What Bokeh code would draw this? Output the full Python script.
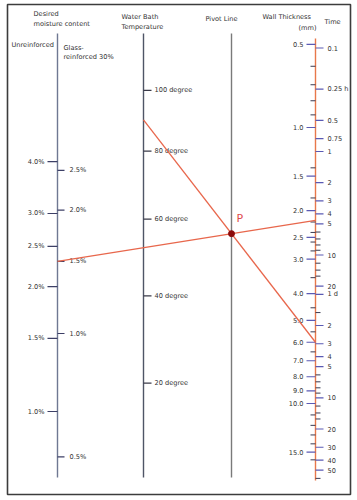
import numpy as np
from bokeh.plotting import figure
from bokeh.models import Range1d, ColumnDataSource
from bokeh.embed import file_html
from bokeh.resources import INLINE
from bokeh.core.properties import value

# ---- scale graduations -------------------------------------------------
unreinforced_pct = [4.0, 3.0, 2.5, 2.0, 1.5, 1.0]
unreinforced_labels = ["4.0%", "3.0%", "2.5%", "2.0%", "1.5%", "1.0%"]

glass_pct = [2.5, 2.0, 1.5, 1.0, 0.5]
glass_labels = ["2.5%", "2.0%", "1.5%", "1.0%", "0.5%"]

temperature_c = [100, 80, 60, 40, 20]
temperature_labels = ["100 degree", "80 degree", "60 degree", "40 degree", "20 degree"]

thickness_mm = [0.5, 1.0, 1.5, 2.0, 2.5, 3.0, 4.0, 5.0, 6.0, 7.0, 8.0, 9.0, 10.0, 15.0]
thickness_labels = ["0.5", "1.0", "1.5", "2.0", "2.5", "3.0", "4.0", "5.0",
                    "6.0", "7.0", "8.0", "9.0", "10.0", "15.0"]
thickness_minor = [0.6, 0.7, 0.8, 0.9, 1.4, 1.8, 2.2, 2.4, 2.6, 2.8, 3.5, 4.5,
                   5.5, 6.5, 11.0, 12.0, 13.0, 14.0, 16.0]

time_h = [0.1, 0.25, 0.5, 0.75, 1, 2, 3, 4, 5, 10, 20, 24,
          48, 72, 96, 120, 240, 480, 720, 960, 1200]
time_labels = ["0.1", "0.25   h", "0.5", "0.75", "1", "2", "3", "4", "5", "10", "20", "  1 d",
               "2", "3", "4", "5", "10", "20", "30", "40", "50"]
time_minor = [6, 7, 8, 9, 12, 14, 16, 36, 144, 168, 192, 216, 288, 336, 384, 1440]

# worked example: 6 mm wall in a 90 degree bath, glass-reinforced grade to 1.5 %
example_thickness = 6.0
example_temperature = 90
example_glass_moisture = 1.5

# ---- scale geometry ----------------------------------------------------
X_MOIST, X_TEMP, X_PIVOT, X_WALL = 57, 143, 231, 315
AXIS_TOP, AXIS_BOTTOM = 33, 477


def y_glass(g):
    return 333 - 410 * np.log10(np.asarray(g, dtype=float))


def y_unreinforced(u):
    return 411 - 415 * np.log10(np.asarray(u, dtype=float))


def y_temperature(t):
    # reciprocal absolute temperature (Arrhenius) scale
    return 228 + 400400 * (1.0 / (np.asarray(t, dtype=float) + 273.15) - 0.003025)


def y_thickness(L):
    return 127 + 276 * np.log10(np.asarray(L, dtype=float))


def y_time(h):
    return 151 + 103.5 * np.log10(np.asarray(h, dtype=float))


p = figure(width=357, height=500, output_backend="svg", toolbar_location=None,
           x_range=Range1d(7, 350), y_range=Range1d(494, 4),
           x_axis_location=None, y_axis_location=None,
           min_border_left=7, min_border_right=7, min_border_top=4, min_border_bottom=6)
p.grid.visible = False
p.outline_line_color = "#3c3c3c"
p.outline_line_width = 1.6
p.background_fill_color = "white"
p.border_fill_color = "white"

FONT = value("DejaVu Sans")
TXT = "#333333"
FS = "6.6px"


def ticks(x, ys, length, color, width=1.2):
    ys = np.asarray(ys, dtype=float)
    p.segment(x0=np.full(len(ys), x), y0=ys, x1=np.full(len(ys), x + length), y1=ys,
              line_color=color, line_width=width)


def labels(x, ys, texts, align):
    src = ColumnDataSource(dict(x=np.full(len(texts), x), y=np.asarray(ys, dtype=float), t=texts))
    p.text(x="x", y="y", text="t", source=src, text_font=FONT, text_font_size=FS,
           text_color=TXT, text_align=align, text_baseline="middle")


# scale stems
p.segment(x0=[X_MOIST, X_TEMP, X_PIVOT], y0=[AXIS_TOP] * 3,
          x1=[X_MOIST, X_TEMP, X_PIVOT], y1=[AXIS_BOTTOM] * 3,
          line_color=["#6f7892", "#4f5566", "#7a7a7a"], line_width=1.4)
p.segment(x0=[X_WALL], y0=[38], x1=[X_WALL], y1=[480], line_color="#e8784a", line_width=1.4)

# moisture content: unreinforced (left) and glass-reinforced (right)
ticks(X_MOIST, y_unreinforced(unreinforced_pct), -10, "#3c3f66")
labels(X_MOIST - 13, y_unreinforced(unreinforced_pct), unreinforced_labels, "right")
ticks(X_MOIST, y_glass(glass_pct), 7, "#3c3f66")
labels(X_MOIST + 12, y_glass(glass_pct), glass_labels, "left")

# water bath temperature
ticks(X_TEMP, y_temperature(temperature_c), 8, "#3a3a48")
labels(X_TEMP + 11, y_temperature(temperature_c), temperature_labels, "left")

# wall thickness (left) and time (right)
ticks(X_WALL, y_thickness(thickness_mm), -9, "#5a5ab4")
labels(X_WALL - 12, y_thickness(thickness_mm), thickness_labels, "right")
ticks(X_WALL, y_thickness(thickness_minor), -5, "#3a3a50", 1.0)
ticks(X_WALL, y_time(time_h), 8, "#5a5ab4")
labels(X_WALL + 12, y_time(time_h), time_labels, "left")
ticks(X_WALL, y_time(time_minor), 5, "#3a3a50", 1.0)

# scale headings
head = dict(text_font=FONT, text_font_size=FS, text_color=TXT, text_baseline="middle")
p.text(x=[33, 33], y=[13, 23], text=["Desired", "moisture content"], **head)
p.text(x=[11], y=[44], text=["Unreinforced"], **head)
p.text(x=[63, 63], y=[47, 56], text=["Glass-", "reinforced 30%"], **head)
p.text(x=[121, 121], y=[16, 26], text=["Water Bath", "Temperature"], **head)
p.text(x=[205], y=[18], text=["Pivot Line"], **head)
p.text(x=[262, 298], y=[16, 27], text=["Wall Thickness", "(mm)"], **head)
p.text(x=[324], y=[21], text=["Time"], **head)

# worked example: thickness + temperature fix the pivot point,
# moisture through the pivot gives the conditioning time
xt, yt = X_TEMP, float(y_temperature(example_temperature))
xw, yw = X_WALL, float(y_thickness(example_thickness))
px = X_PIVOT
py = yt + (yw - yt) * (px - xt) / (xw - xt)
xm, ym = X_MOIST, float(y_glass(example_glass_moisture))
y_end = ym + (py - ym) * (X_WALL - xm) / (px - xm)

p.line(x=[xt, xw], y=[yt, yw], line_color="#e8674c", line_width=1.3)
p.line(x=[xm, X_WALL], y=[ym, y_end], line_color="#e8674c", line_width=1.3)
p.scatter(x=[px], y=[py], size=6, fill_color="#8c0a0a", line_color="#8c0a0a")
p.text(x=[px + 5], y=[py - 15], text=["P"], text_font=FONT, text_font_size="11px",
       text_color="#e04a4a", text_baseline="middle")

open("out.html", "w").write(file_html(p, INLINE))
